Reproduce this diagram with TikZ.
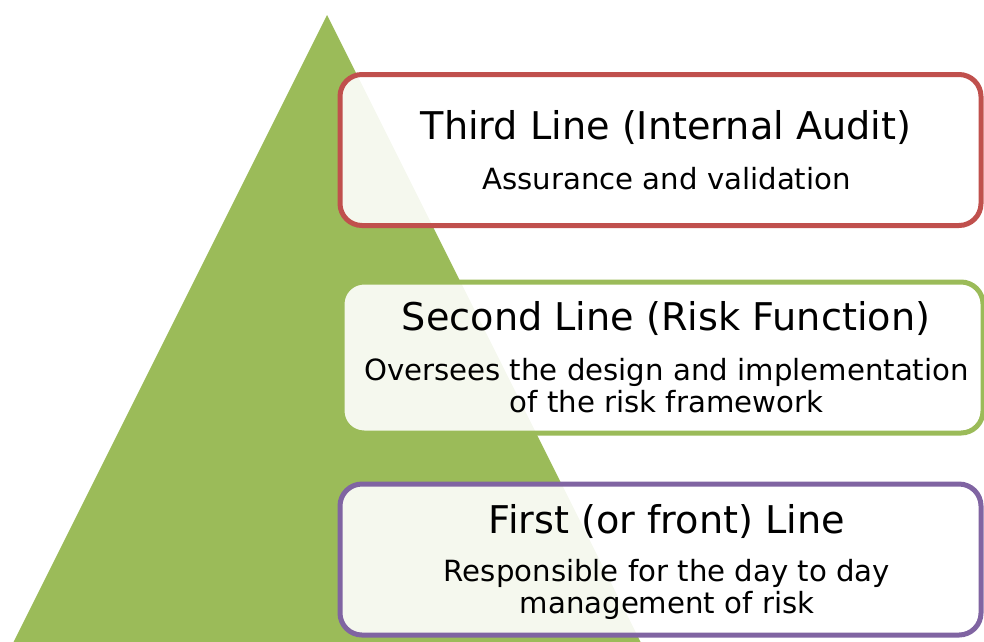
\documentclass[tikz,border=0pt]{standalone}
\usepackage{fontspec}
\setmainfont{DejaVu Sans}
\definecolor{pyramidgreen}{HTML}{9BBB59}
\definecolor{auditred}{HTML}{C0504D}
\definecolor{riskgreen}{HTML}{9BBB59}
\definecolor{frontpurple}{HTML}{8064A2}
\tikzset{
  pyramid/.style={fill=pyramidgreen},
  tier/.style={rectangle, rounded corners=22pt, line width=5pt,
    fill=white, fill opacity=0.9, minimum width=641pt, inner sep=0pt},
  tiertitle/.style={anchor=base, inner sep=0pt, font=\fontsize{38.2}{44}\selectfont},
  tierdesc/.style={anchor=base, inner sep=0pt, font=\fontsize{29.2}{34}\selectfont},
}
\begin{document}
\begin{tikzpicture}[x=1pt,y=-1pt]
\useasboundingbox (0,0) rectangle (984,641);
\begin{scope}
  \clip (0,0) rectangle (984,641);
  % background pyramid
  \fill[pyramid] (327,15) -- (660,681) -- (-6,681) -- cycle;
  % the three lines of defence
  \node[tier, draw=auditred, minimum height=151pt] (third) at (660.5,150) {};
  \node[tier, draw=riskgreen, minimum height=151pt] (second) at (662.5,357.5) {};
  \node[tier, draw=frontpurple, minimum height=151pt] (first) at (660.5,559.5) {};
\end{scope}
\node[tiertitle] (thirdT) at (666,139) {Third Line (Internal Audit)};
\node[tierdesc] (thirdD) at (666.5,189) {Assurance and validation};
\node[tiertitle] (secondT) at (666,330) {Second Line (Risk Function)};
\node[tierdesc] (secondD1) at (666.5,380) {Oversees the design and implementation};
\node[tierdesc] (secondD2) at (666.5,412) {of the risk framework};
\node[tiertitle] (firstT) at (667,533) {First (or front) Line};
\node[tierdesc] (firstD1) at (667,581) {Responsible for the day to day};
\node[tierdesc] (firstD2) at (667,613) {management of risk};
\end{tikzpicture}
\end{document}
